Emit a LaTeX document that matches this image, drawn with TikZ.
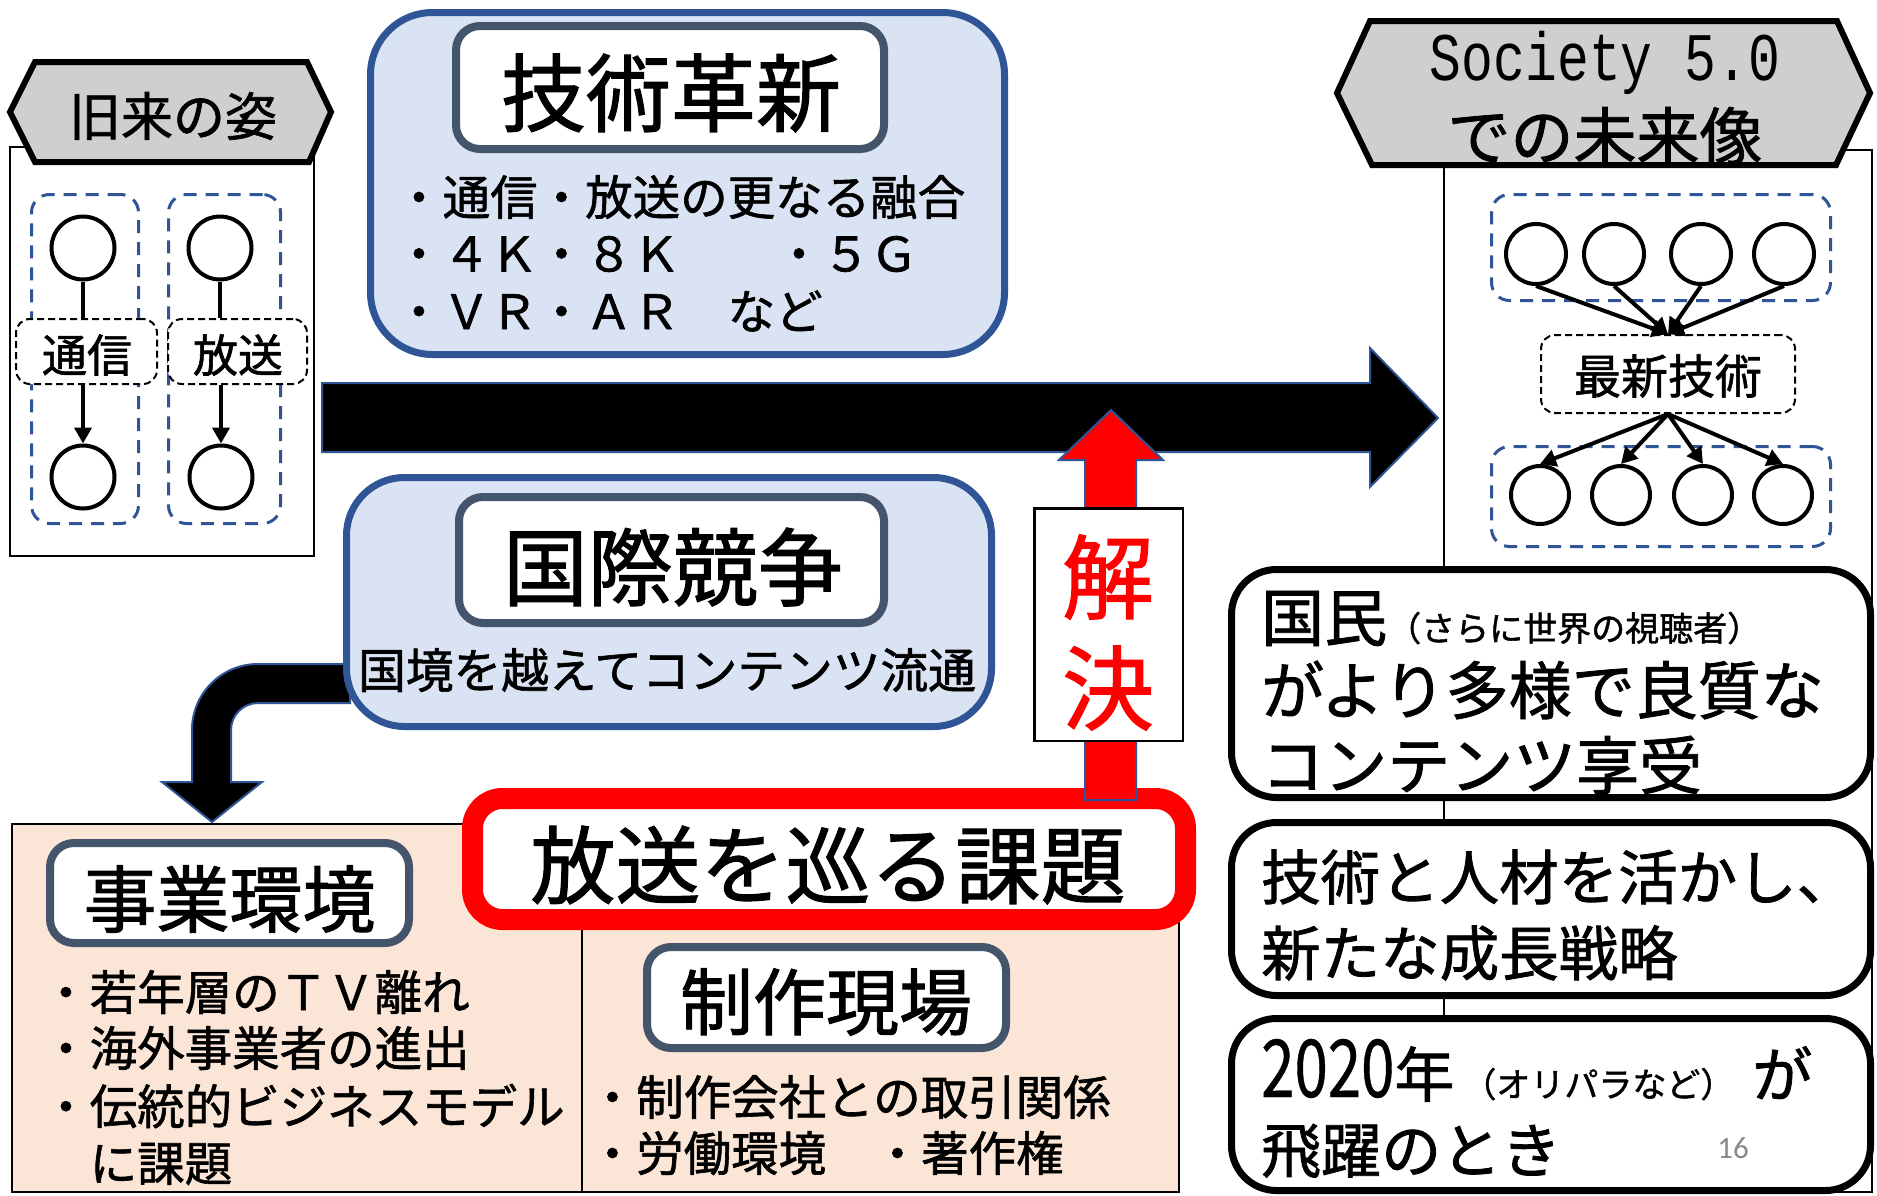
\documentclass[tikz,border=0pt]{standalone}
\usepackage{fontspec}
\setmainfont[FakeBold=1.3]{Noto Sans CJK JP}
\newfontfamily\monof[FakeStretch=0.78]{Liberation Mono}
\newfontfamily\narrowf[FakeStretch=0.75,FakeBold=0.5]{Noto Sans CJK JP}
\newfontfamily\calif{Carlito}
\usetikzlibrary{arrows.meta}
\newcommand\myfs[1]{\fontsize{#1pt}{#1pt}\selectfont}
\definecolor{accblue}{HTML}{2F5597}
\definecolor{lightblue}{HTML}{DAE3F3}
\definecolor{slate}{HTML}{44546A}
\definecolor{peach}{HTML}{FBE5D6}
\definecolor{hexgray}{HTML}{D0CECE}
\definecolor{pgnum}{HTML}{898989}
\begin{document}
\begin{tikzpicture}[x=1pt,y=-1pt,
  bluebox/.style={draw=accblue, fill=lightblue, line width=7pt, rounded corners=62pt, inner sep=0pt},
  titlebox/.style={draw=slate, fill=white, line width=8pt, rounded corners=24pt, inner sep=0pt},
  bluedash/.style={draw=accblue, line width=3pt, dash pattern=on 13pt off 9pt, rounded corners=18pt, inner sep=0pt},
  blackdash/.style={draw=black, fill=white, line width=2pt, dash pattern=on 7pt off 4pt, rounded corners=14pt, inner sep=0pt},
  ring/.style={circle, draw, line width=4pt, fill=white, inner sep=0pt},
  plainconn/.style={line width=4pt},
  conn/.style={line width=4pt, -{Triangle[length=16pt,width=17pt]}},
  hexbox/.style={draw=black, fill=hexgray, line width=6pt, line join=miter},
  fatarrow/.style={fill=black, draw=accblue, line width=2pt, line join=miter},
  redarrow/.style={fill=red, draw=accblue, line width=2pt, line join=miter},
  resbox/.style={draw=black, fill=white, line width=7pt, rounded corners=45pt, inner sep=0pt},
  frame/.style={draw=black, line width=2pt, inner sep=0pt},
  txt/.style={inner sep=0pt, anchor=west},
  ctxt/.style={inner sep=0pt}
]
\useasboundingbox[fill=white] (0,0) rectangle (1877,1195);

% ---------------- left panel: 旧来の姿
\node[frame, fill=white, minimum width=304pt, minimum height=409pt] (oldframe) at (162,351.5) {};
\node[bluedash, minimum width=107pt, minimum height=329pt] (grpA) at (85,359) {};
\node[bluedash, minimum width=112pt, minimum height=329pt] (grpB) at (224.5,359) {};
\node[ring, minimum size=63pt] (a1) at (83,248) {};
\node[ring, minimum size=63pt] (a2) at (83,477) {};
\node[ring, minimum size=63pt] (b1x) at (220,248) {};
\node[ring, minimum size=63pt] (b2x) at (221,477) {};
\node[blackdash, minimum width=141pt, minimum height=65pt] (tsushin) at (86.5,351.5) {};
\node[blackdash, minimum width=139pt, minimum height=65pt] (hoso) at (237.5,351.5) {};
\node[ctxt] (tsushintxt) at (87,355) {\myfs{45}通信};
\node[ctxt] (hosotxt) at (238,355) {\myfs{45}放送};
\draw[plainconn] (a1.south) -- (a1.south |- tsushin.north);
\draw[conn] (a2.north |- tsushin.south) -- (a2.north);
\draw[plainconn] (b1x.south) -- (b1x.south |- hoso.north);
\draw[conn] (b2x.north |- hoso.south) -- (b2x.north);
\draw[hexbox] (10,112) -- (35,62) -- (307,62) -- (331,112) -- (309,162) -- (35,162) -- cycle;
\node[ctxt] (kyurai) at (173,116) {\myfs{52}旧来の姿};

% ---------------- 技術革新
\node[bluebox, minimum width=634pt, minimum height=342pt] (tech) at (687.5,183.5) {};
\node[titlebox, minimum width=428pt, minimum height=123pt] (techtitle) at (670,87.5) {};
\node[ctxt] (techtxt) at (671,93) {\myfs{85}技術革新};
\node[txt] (tl1) at (395,197) {\myfs{47.5}・通信・放送の更なる融合};
\node[txt] (tl2) at (395,254) {\myfs{47.5}・４Ｋ・８Ｋ　　・５Ｇ};
\node[txt] (tl3) at (395,311) {\myfs{47.5}・ＶＲ・ＡＲ　など};

% ---------------- main arrow
\draw[fatarrow] (322,383) -- (1370,383) -- (1370,348) -- (1438,418) -- (1370,487) -- (1370,452) -- (322,452) -- cycle;

% ---------------- curved arrow to 事業環境
\draw[fatarrow] (350,664) -- (258,664) .. controls (221.5,664) and (192,693.5) .. (192,730) -- (192,782) -- (162,782) -- (212,822) -- (262,782) -- (231,782) -- (231,730) .. controls (231,715.1) and (243.1,703) .. (258,703) -- (350,703) -- cycle;

% ---------------- 国際競争
\node[bluebox, rounded corners=58pt, minimum width=645pt, minimum height=249pt] (intl) at (669,602) {};
\node[titlebox, minimum width=425pt, minimum height=126pt] (intltitle) at (671.5,560) {};
\node[ctxt] (intltxt) at (673,567) {\myfs{85}国際競争};
\node[txt] (intlline) at (358,670) {\myfs{47.7}国境を越えてコンテンツ流通};

% ---------------- bottom peach panel
\node[frame, fill=peach, minimum width=1167pt, minimum height=368pt] (issues) at (595.5,1008) {};
\draw[line width=2pt] (582,915) -- (582,1192);
\node[titlebox, minimum width=359pt, minimum height=100pt] (jigyo) at (229.5,893) {};
\node[ctxt] (jigyotxt) at (229.5,899) {\myfs{73}事業環境};
\node[txt] (jl1) at (42,992) {\myfs{47.5}・若年層のＴＶ離れ};
\node[txt] (jl2) at (42,1048) {\myfs{47.5}・海外事業者の進出};
\node[txt] (jl3) at (42,1106) {\myfs{47.5}・伝統的ビジネスモデル};
\node[txt] (jl4) at (89.5,1164) {\myfs{47.5}に課題};
\node[titlebox, minimum width=359pt, minimum height=101pt] (seisaku) at (826.5,997.5) {};
\node[ctxt] (seisakutxt) at (826,1002) {\myfs{73}制作現場};
\node[txt] (sl1) at (588.5,1097) {\myfs{47.5}・制作会社との取引関係};
\node[txt] (sl2) at (588.5,1153) {\myfs{47.5}・労働環境　・著作権};

% ---------------- 放送を巡る課題
\node[draw=red, fill=white, line width=21pt, rounded corners=30pt, minimum width=713pt, minimum height=121pt, inner sep=0pt] (kadai) at (829,859) {};
\node[ctxt] (kadaitxt) at (828,865) {\myfs{85}放送を巡る課題};

% ---------------- 解決
\draw[redarrow] (1085,800) -- (1085,460) -- (1059,460) -- (1111,410) -- (1163,460) -- (1136,460) -- (1136,800) -- cycle;
\node[draw=black, fill=white, line width=2.5pt, minimum width=148.5pt, minimum height=232.5pt, inner sep=0pt] (kaiketsu) at (1108.5,624.5) {};
\node[ctxt, text=red] (kai) at (1108,577) {\myfs{92}解};
\node[ctxt, text=red] (ketsu) at (1108,688) {\myfs{92}決};

% ---------------- right panel: Society 5.0
\node[frame, minimum width=428pt, minimum height=1042pt] (newframe) at (1658,671) {};
\node[bluedash, minimum width=339pt, minimum height=106pt] (grpTop) at (1661,247.5) {};
\node[bluedash, minimum width=339pt, minimum height=100pt] (grpBot) at (1661,496.5) {};
\node[ring, minimum size=60pt] (t1) at (1536,254) {};
\node[ring, minimum size=60pt] (t2) at (1614,254) {};
\node[ring, minimum size=60pt] (t3) at (1701,254) {};
\node[ring, minimum size=60pt] (t4) at (1784,254) {};
\node[ring, minimum size=58pt] (u1) at (1540,495) {};
\node[ring, minimum size=58pt] (u2) at (1621,495) {};
\node[ring, minimum size=58pt] (u3) at (1703,495) {};
\node[ring, minimum size=58pt] (u4) at (1783,495) {};
\node[blackdash, minimum width=254pt, minimum height=78pt] (saishin) at (1668,374) {};
\node[ctxt] (saishintxt) at (1668,376) {\myfs{47}最新技術};
\foreach \c in {t1,t2,t3,t4} \draw[conn] (\c.south) -- (saishin.north);
\foreach \c in {u1,u2,u3,u4} \draw[conn] (saishin.south) -- (\c.north);
\draw[hexbox] (1337,93) -- (1370,21) -- (1837,21) -- (1870,93) -- (1836,165) -- (1372,165) -- cycle;
\node[inner sep=0pt, anchor=base] (soc1) at (1605,80) {\monof\myfs{68}Society 5.0};
\node[ctxt] (soc2) at (1605,136) {\myfs{63}での未来像};

% ---------------- result boxes
\node[resbox, minimum width=639pt, minimum height=228pt] (resA) at (1551,683.5) {};
\node[inner sep=0pt, anchor=base west] (ra1) at (1261,641) {\myfs{63}国民{\myfs{34}（さらに世界の視聴者）}};
\node[txt] (ra2) at (1261,690) {\myfs{63}がより多様で良質な};
\node[txt] (ra3) at (1261,765) {\myfs{63}コンテンツ享受};
\node[resbox, minimum width=639pt, minimum height=173pt] (resB) at (1551,909) {};
\node[txt] (rb1) at (1261,877) {\myfs{59.5}技術と人材を活かし、};
\node[txt] (rb2) at (1261,953) {\myfs{59.5}新たな成長戦略};
\node[resbox, minimum width=639pt, minimum height=172pt] (resC) at (1551,1104.5) {};
\node[inner sep=0pt, anchor=base west] (rc1) at (1261,1097) {\myfs{60}{\narrowf\myfs{80}2020}年\hspace{8pt}{\myfs{34}（オリパラなど）}\hspace{18pt}が};
\node[txt] (rc2) at (1261,1151) {\myfs{60}飛躍のとき};
\node[ctxt, text=pgnum] (pageno) at (1733,1148) {\calif\myfs{31}16};
\end{tikzpicture}
\end{document}
